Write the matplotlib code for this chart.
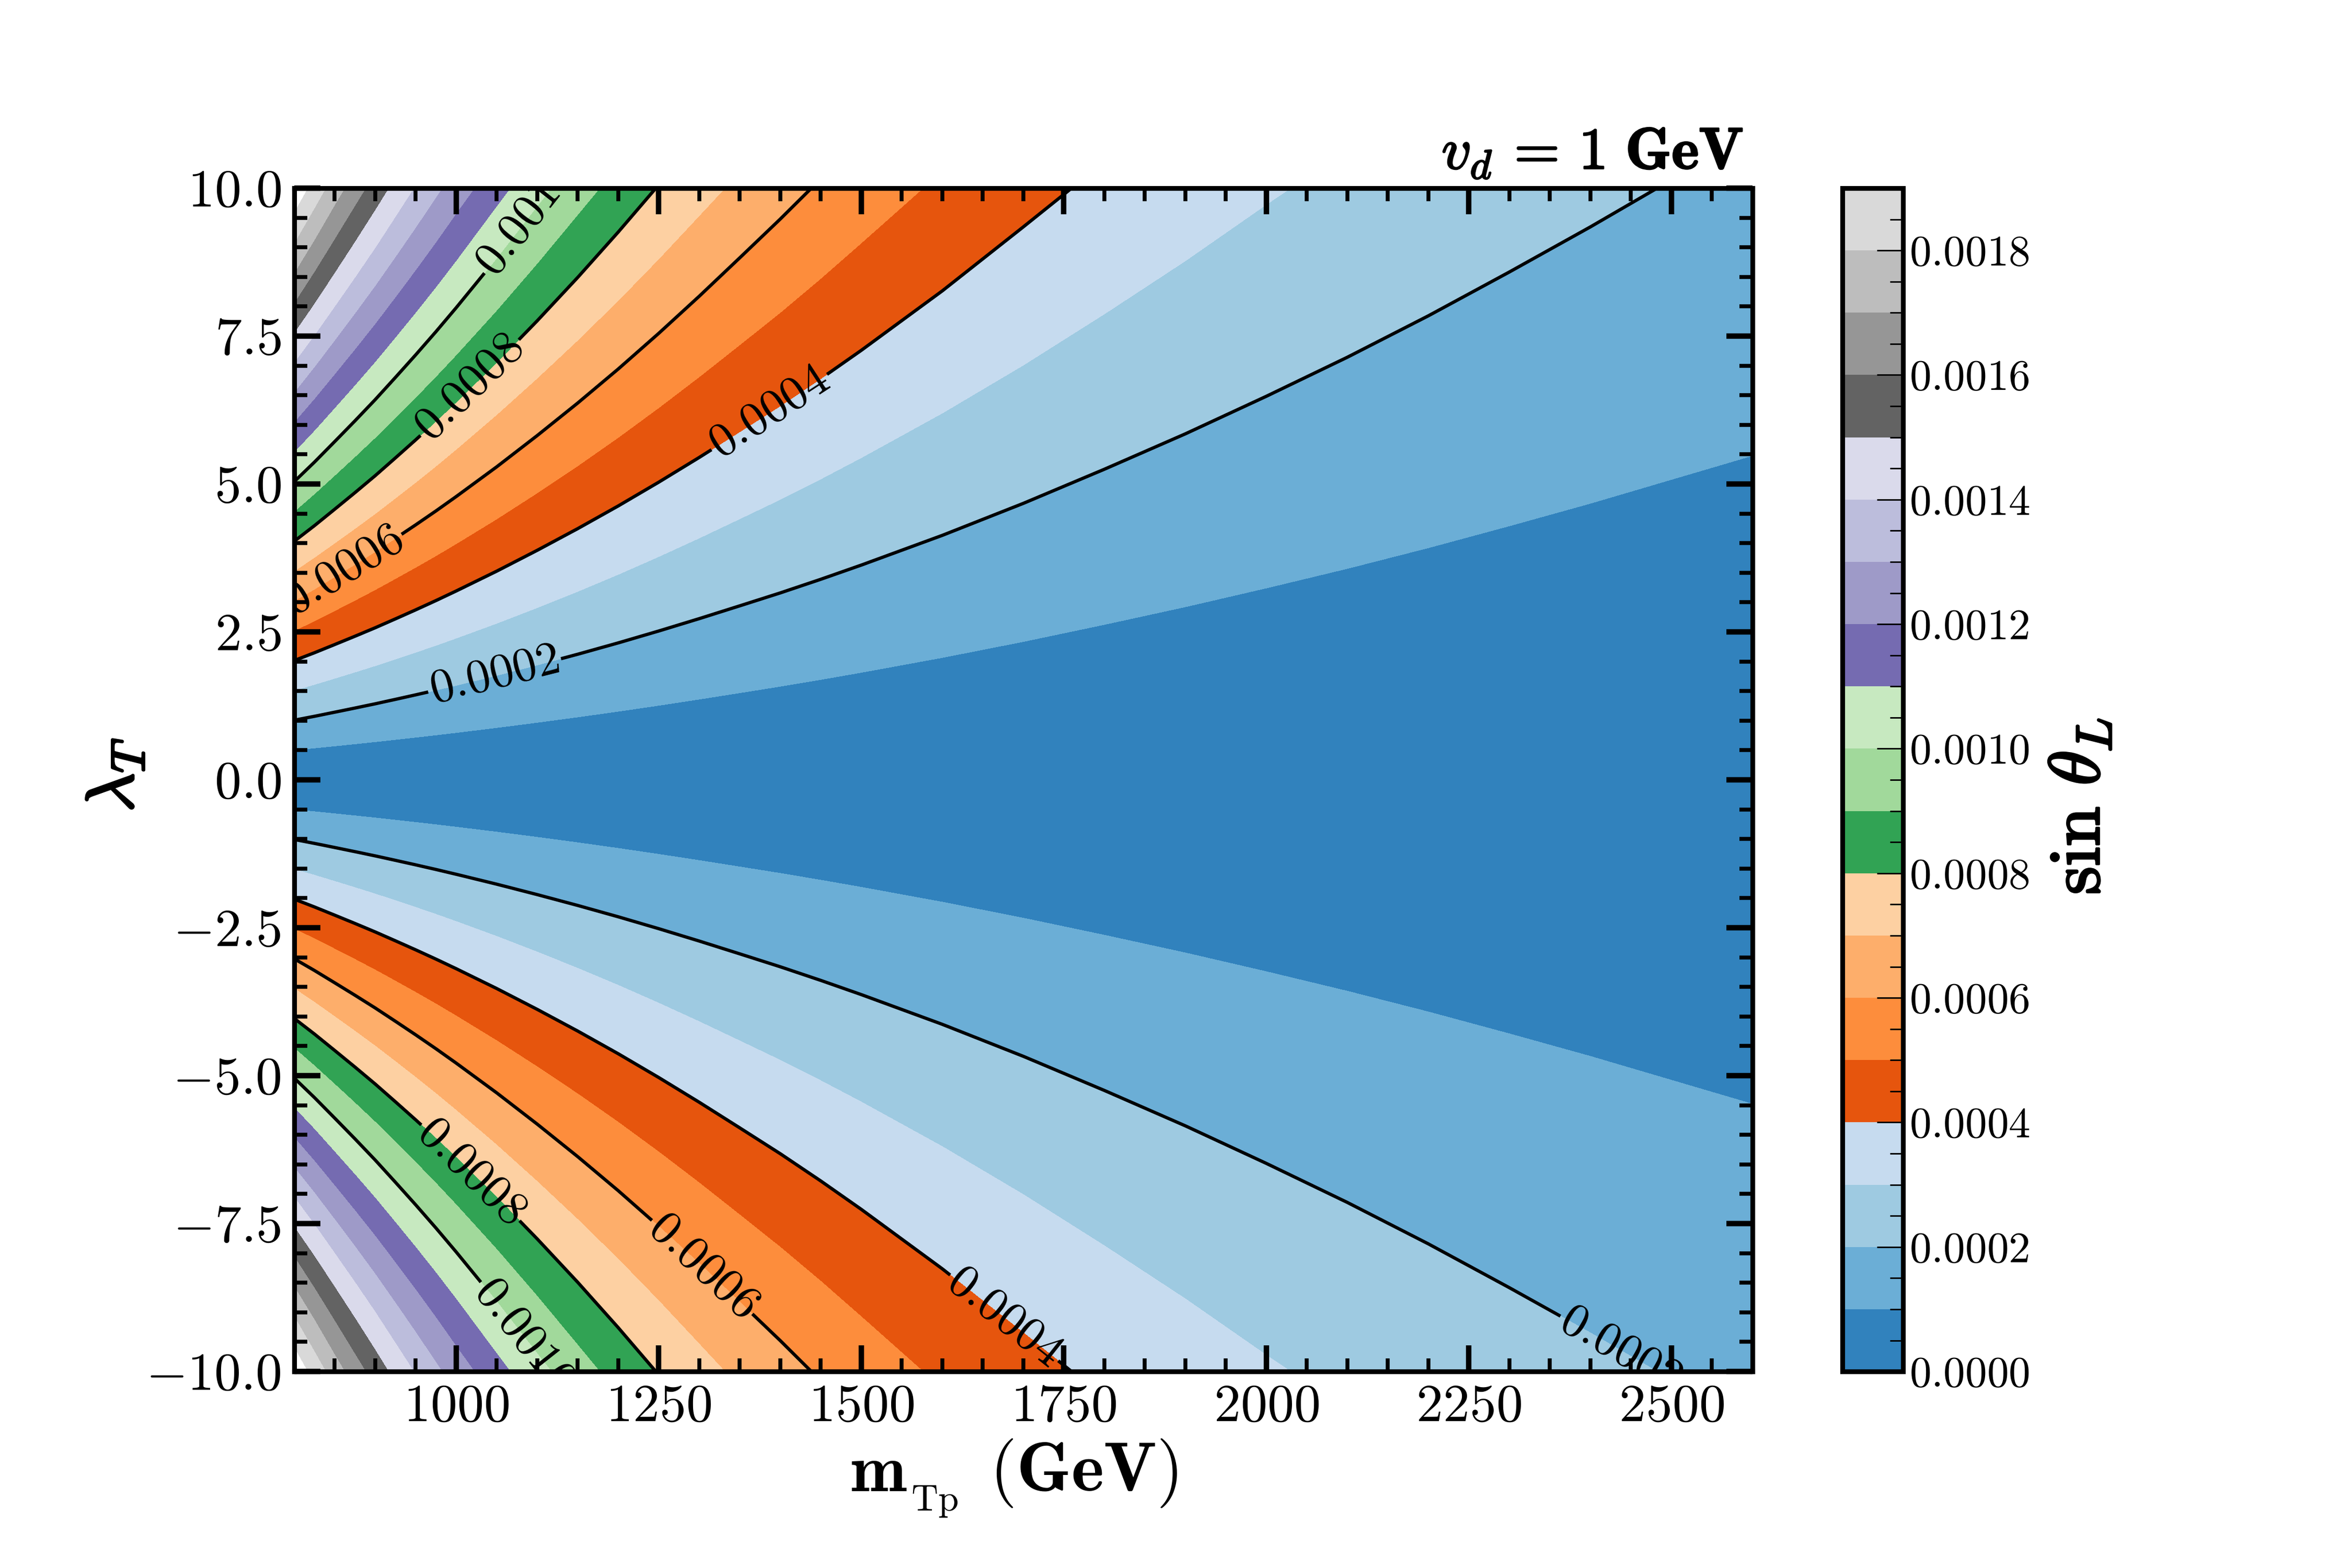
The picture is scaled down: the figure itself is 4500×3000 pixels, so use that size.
import numpy as np
import matplotlib
matplotlib.use("Agg")
import matplotlib.pyplot as plt
import matplotlib.patheffects as pe
from matplotlib.ticker import FixedLocator, MultipleLocator, FuncFormatter

plt.rcParams['font.family'] = ['cmr10', 'DejaVu Sans']
plt.rcParams['mathtext.fontset'] = 'cm'
plt.rcParams['axes.formatter.use_mathtext'] = True
plt.rcParams['text.hinting'] = 'no_hinting'

# mass grid and sin(theta_L) read along the lambda_T = +-10 edges
mass = [800, 825, 850, 875, 900, 925, 950, 975, 1000, 1050, 1100, 1150, 1200, 1250, 1300,
        1350, 1400, 1450, 1500, 1600, 1700, 1800, 1900, 2000, 2100, 2200, 2300, 2400, 2500, 2600]
sin_edge = [19.84e-4, 18.62e-4, 17.49e-4, 16.48e-4, 15.56e-4, 14.70e-4, 13.92e-4, 13.20e-4,
            12.53e-4, 11.34e-4, 10.31e-4, 9.42e-4, 8.64e-4, 7.95e-4, 7.34e-4, 6.80e-4, 6.33e-4,
            5.90e-4, 5.51e-4, 4.84e-4, 4.28e-4, 3.81e-4, 3.42e-4, 3.085e-4, 2.80e-4, 2.55e-4,
            2.33e-4, 2.14e-4, 1.97e-4, 1.825e-4]
lam = [-10, 0, 10]
sin_center = [0.0] * len(mass)

fill_levels = np.arange(0, 0.00191, 0.0001)
line_levels = [0.0002, 0.0004, 0.0006, 0.0008, 0.001]
label_spots = [(1046, 1.84), (2440, -9.55), (1389, 6.16), (1680, -9.03), (860, 3.55),
               (1306, -8.2), (1015, 6.65), (1019, -6.62), (1085, 9.5), (1083, -9.4)]

x_ticks = [1000, 1250, 1500, 1750, 2000, 2250, 2500]
y_ticks = [-10, -7.5, -5, -2.5, 0, 2.5, 5, 7.5, 10]
cbar_ticks = [0, 0.0002, 0.0004, 0.0006, 0.0008, 0.001, 0.0012, 0.0014, 0.0016, 0.0018]

Z = np.array([sin_edge, sin_center, sin_edge])

fig = plt.figure(figsize=(15, 10), dpi=300)
ax = fig.add_axes([0.1251, 0.1253, 0.6200, 0.7547])
cax = fig.add_axes([0.7833, 0.1253, 0.0258, 0.7547])

cf = ax.contourf(mass, lam, Z, levels=fill_levels, cmap='tab20c')
cs = ax.contour(mass, lam, Z, levels=line_levels, colors='k', linewidths=1.5)
ax.clabel(cs, inline=True, fontsize=22, fmt='$%.4f$', manual=label_spots)

ax.set_xlim(800, 2600)
ax.set_ylim(-10, 10)
ax.xaxis.set_major_locator(FixedLocator(x_ticks))
ax.xaxis.set_minor_locator(MultipleLocator(50))
ax.yaxis.set_major_locator(FixedLocator(y_ticks))
ax.yaxis.set_minor_locator(MultipleLocator(0.5))
ax.xaxis.set_major_formatter(FuncFormatter(lambda v, p: '$%d$' % v))
ax.yaxis.set_major_formatter(FuncFormatter(lambda v, p: '$%.1f$' % v))
ax.tick_params(which='both', direction='in', top=True, right=True)
ax.tick_params(which='major', length=12, width=2.5, labelsize=24.5, pad=6)
ax.tick_params(which='minor', length=6, width=1.8)
for s in ax.spines.values():
    s.set_linewidth(2.2)

bold = [pe.withStroke(linewidth=1.0, foreground='k')]
# x label pieces sit apart in the original, subscript is small and not bold
fig.text(1626 / 4500, 1 - 2853 / 3000, r'$\mathbf{m}$', fontsize=31, ha='left', va='baseline')
fig.text(1743 / 4500, 1 - 2890 / 3000, r'$\mathrm{Tp}$', fontsize=17, ha='left', va='baseline')
fig.text(1893 / 4500, 1 - 2853 / 3000, r'$\mathbf{(GeV)}$', fontsize=32, ha='left', va='baseline')
fig.text(222 / 4500, 1 - 1483 / 3000, r'$\lambda_T$', fontsize=31, rotation=90, ha='center',
         va='center', path_effects=bold)
fig.text(3335 / 4500, 1 - 323 / 3000, r'$v_d\,=\,\mathbf{1\ GeV}$', fontsize=27, ha='right',
         va='baseline', path_effects=[pe.withStroke(linewidth=0.7, foreground='k')])

cbar = fig.colorbar(cf, cax=cax)
cbar.set_ticks(cbar_ticks)
cbar.ax.yaxis.set_major_formatter(FuncFormatter(lambda v, p: '$%.4f$' % v))
cbar.ax.yaxis.set_minor_locator(MultipleLocator(0.00005))
cbar.ax.tick_params(which='both', direction='in', width=0.7)
cbar.ax.tick_params(which='major', length=12, labelsize=20, pad=3)
cbar.ax.tick_params(which='minor', length=6)
cbar.outline.set_linewidth(2.2)
fig.text(3981 / 4500, 1 - 1543 / 3000, r'$\mathrm{sin}\ \theta_L$', fontsize=33, rotation=90,
         ha='center', va='center', path_effects=bold)

fig.savefig('out.png', dpi=300)
